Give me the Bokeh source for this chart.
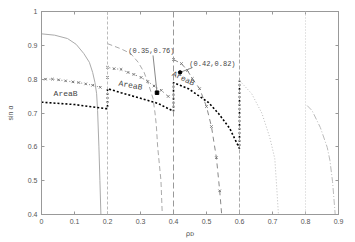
from bokeh.plotting import figure
from bokeh.models import Range1d, LinearAxis, Span, FixedTicker
from bokeh.core.properties import value
from bokeh.embed import file_html
from bokeh.resources import INLINE

# ---- data ----
x_ticks = [0, 0.1, 0.2, 0.3, 0.4, 0.5, 0.6, 0.7, 0.8, 0.9]
y_ticks = [0.4, 0.5, 0.6, 0.7, 0.8, 0.9, 1.0]
x_tick_labels = ["0", "0.1", "0.2", "0.3", "0.4", "0.5", "0.6", "0.7", "0.8", "0.9"]
y_tick_labels = ["0.4", "0.5", "0.6", "0.7", "0.8", "0.9", "1"]

boundaries = [0.2, 0.4, 0.6, 0.8]

solid1_x = [0, 0.04, 0.079, 0.105, 0.128, 0.145, 0.155, 0.162, 0.167, 0.17, 0.174, 0.177, 0.18]
solid1_y = [0.934, 0.93, 0.92, 0.903, 0.876, 0.85, 0.82, 0.79, 0.757, 0.707, 0.6, 0.5, 0.4]

dash2_x = [0.2, 0.24, 0.27, 0.293, 0.311, 0.326, 0.338, 0.344, 0.348, 0.352, 0.357, 0.362, 0.366]
dash2_y = [0.905, 0.89, 0.876, 0.85, 0.82, 0.78, 0.743, 0.70, 0.663, 0.6, 0.55, 0.5, 0.4]

dot6_x = [0.6, 0.637, 0.668, 0.692, 0.707, 0.713, 0.718]
dot6_y = [0.796, 0.757, 0.699, 0.627, 0.565, 0.477, 0.4]

dd7_x = [0.805, 0.82, 0.845, 0.866, 0.874, 0.882, 0.89]
dd7_y = [0.722, 0.707, 0.657, 0.598, 0.56, 0.497, 0.4]

m1_x = [0.012, 0.033, 0.052, 0.073, 0.095, 0.113, 0.134, 0.155, 0.178]
m1_y = [0.80, 0.80, 0.798, 0.795, 0.792, 0.79, 0.786, 0.782, 0.776]

m2_x = [0.2, 0.2, 0.22, 0.241, 0.262, 0.28, 0.302, 0.322, 0.341, 0.363, 0.384]
m2_y = [0.805, 0.835, 0.831, 0.829, 0.82, 0.814, 0.805, 0.793, 0.78, 0.767, 0.749]

m3_x = [0.4, 0.424, 0.442, 0.457, 0.479, 0.5, 0.515, 0.53, 0.54]
m3_y = [0.858, 0.846, 0.826, 0.802, 0.772, 0.719, 0.66, 0.568, 0.47]
m3_end_x = [0.546]
m3_end_y = [0.4]

areab_x = [0, 0.1, 0.195, 0.2, 0.2, 0.241, 0.302, 0.354, 0.4, 0.4, 0.445, 0.506, 0.537, 0.57, 0.6, 0.6]
areab_y = [0.732, 0.725, 0.713, 0.713, 0.772, 0.76, 0.743, 0.728, 0.705, 0.79, 0.772, 0.731, 0.698, 0.655, 0.595, 0.796]

pt_x = [0.35, 0.42]
pt_y = [0.76, 0.82]
pt_text = ["(0.35,0.76)", "(0.42,0.82)"]

area_text = ["AreaB", "AreaB", "AreaB"]

# ---- figure ----
p = figure(width=355, height=242, output_backend="svg", toolbar_location=None,
           x_range=Range1d(0, 0.9), y_range=Range1d(0.4, 1.0),
           min_border_left=41, min_border_right=17, min_border_top=11, min_border_bottom=28,
           background_fill_color="white", border_fill_color="white")
p.grid.visible = False
p.outline_line_color = "#999999"
p.outline_line_width = 1

frame_col = "#999999"
text_col = "#555555"

def style_axis(ax):
    ax.axis_line_color = frame_col
    ax.major_tick_line_color = frame_col
    ax.major_tick_in = 3
    ax.major_tick_out = 0
    ax.minor_tick_line_color = None
    ax.major_label_text_font = "Liberation Sans"
    ax.major_label_text_font_size = "7px"
    ax.major_label_text_color = text_col

p.xaxis.ticker = FixedTicker(ticks=x_ticks)
p.yaxis.ticker = FixedTicker(ticks=y_ticks)
p.xaxis.major_label_overrides = {t: l for t, l in zip(x_ticks, x_tick_labels)}
p.yaxis.major_label_overrides = {t: l for t, l in zip(y_ticks, y_tick_labels)}
style_axis(p.xaxis[0])
style_axis(p.yaxis[0])
p.xaxis.major_label_standoff = 4
p.yaxis.major_label_standoff = 4
p.yaxis.axis_label = "sin α"
p.yaxis.axis_label_text_font = "Liberation Sans"
p.yaxis.axis_label_text_font_style = "normal"
p.yaxis.axis_label_text_font_size = "7px"
p.yaxis.axis_label_text_color = text_col
p.yaxis.axis_label_standoff = 11
p.xaxis.axis_label = "ρᴅ"
p.xaxis.axis_label_text_font = "DejaVu Sans"
p.xaxis.axis_label_text_font_style = "normal"
p.xaxis.axis_label_text_font_size = "7px"
p.xaxis.axis_label_text_color = text_col
p.xaxis.axis_label_standoff = 3

# mirrored tick marks (minor ticks only, so no labels are drawn)
def mirror_axis(ticks):
    ax = LinearAxis(ticker=FixedTicker(ticks=[], minor_ticks=ticks))
    ax.axis_line_color = frame_col
    ax.major_tick_line_color = None
    ax.minor_tick_line_color = frame_col
    ax.minor_tick_in = 3
    ax.minor_tick_out = 0
    ax.major_label_standoff = 0
    return ax

p.add_layout(mirror_axis(x_ticks), "above")
p.add_layout(mirror_axis(y_ticks), "right")

# boundary lines
bstyles = [("#bbbbbb", "3 2"), ("#999999", "6 3"), ("#aaaaaa", "4 2"), ("#c8c8c8", "1 2")]
for loc, (c, d) in zip(boundaries, bstyles):
    p.add_layout(Span(location=loc, dimension="height", line_color=c, line_dash=d, line_width=1))

# curves
p.line(solid1_x, solid1_y, line_color="#aaaaaa", line_width=1)
p.line(dash2_x, dash2_y, line_color="#aaaaaa", line_width=1, line_dash="5 3")
p.line(dot6_x, dot6_y, line_color="#bbbbbb", line_width=1, line_dash="1 2")
p.line(dd7_x, dd7_y, line_color="#bbbbbb", line_width=1, line_dash="6 2 1 2")

# marker series
p.line(m1_x, m1_y, line_color="#888888", line_width=1, line_dash="1 3")
p.scatter(m1_x, m1_y, marker="x", size=3.5, line_color="#777777", line_width=1)
p.line(m2_x, m2_y, line_color="#888888", line_width=1, line_dash="1 3")
p.scatter(m2_x, m2_y, marker="x", size=3.5, line_color="#777777", line_width=1)
p.line(m3_x + m3_end_x, m3_y + m3_end_y, line_color="#888888", line_width=1, line_dash="5 4")
p.scatter(m3_x, m3_y, marker="x", size=3.5, line_color="#777777", line_width=1)

# AreaB boundary
p.line(areab_x, areab_y, line_color="black", line_width=1.6, line_dash="2 2")

# annotated points
p.segment(x0=[0.338, 0.457], y0=[0.87, 0.834], x1=pt_x, y1=pt_y, line_color="#888888", line_width=1)
p.scatter([pt_x[0]], [pt_y[0]], marker="square", size=3.5, color="black")
p.scatter([pt_x[1]], [pt_y[1]], marker="circle", size=3.5, color="black")
p.text(x=[0.333, 0.518], y=[0.882, 0.846], text=pt_text, text_font=value("Liberation Mono"),
       text_font_size="7px", text_color="#444444", text_align="center", text_baseline="middle")

p.text(x=[0.073, 0.27, 0.43], y=[0.757, 0.782, 0.802], text=area_text,
       angle=[0, -0.18, -0.45], text_font=value("Liberation Mono"),
       text_font_size="8px", text_color="#444444", text_align="center", text_baseline="middle")

open("out.html", "w").write(file_html(p, INLINE))
